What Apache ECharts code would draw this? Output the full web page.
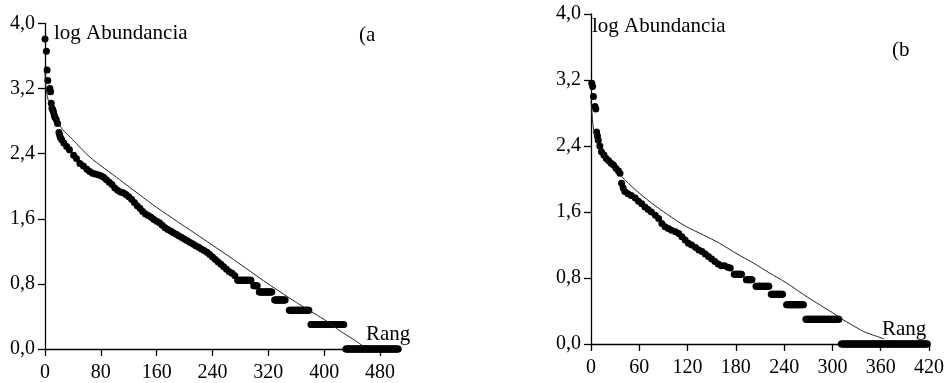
<!DOCTYPE html>
<html>
<head>
<meta charset="utf-8">
<script src="https://cdn.jsdelivr.net/npm/echarts@6/dist/echarts.min.js"></script>
<style>
html,body{margin:0;padding:0;background:#fff;}
#chart{width:949px;height:383px;}
</style>
</head>
<body>
<div id="chart"></div>
<script>
// ---------- DATA (a) ----------
const curveRankA = [0,2,3,4,7,8,9,10,11,12,13,14,16,18,20,21,22,24,27,31,35,41,45,50,55,60,64,68,72,76,80,84,88,92,96,100,104,108,112,116,120,124,128,132,136,140,144,148,152,156,160,164,168,172,176,180,184,188,192,196,200,204,208,212,216,220,224,228,232,236,240,244,248,252,256,260,264,268,272];
const curveLogA  = [3.81,3.66,3.43,3.30,3.20,3.16,3.02,2.96,2.94,2.92,2.88,2.85,2.82,2.77,2.66,2.63,2.60,2.57,2.53,2.49,2.45,2.38,2.34,2.28,2.25,2.21,2.18,2.16,2.15,2.14,2.13,2.11,2.08,2.05,2.02,1.98,1.95,1.93,1.92,1.90,1.87,1.84,1.80,1.76,1.73,1.69,1.66,1.64,1.62,1.59,1.57,1.55,1.52,1.49,1.47,1.45,1.43,1.41,1.39,1.37,1.35,1.33,1.31,1.29,1.27,1.25,1.23,1.21,1.19,1.16,1.13,1.10,1.07,1.04,1.01,0.98,0.95,0.93,0.90];
// plateaus (many species sharing the same abundance): first rank, last rank, log abundance
const stepStartA = [276,299,307,329,350,381,431];
const stepEndA   = [295,304,325,344,378,428,506];
const stepLogA   = [0.845,0.778,0.699,0.602,0.477,0.301,0];
// fitted model line (a)
const fitRankA = [0,1,3,5,10,17,25,40,64,107,160,222,270,318,365,404,423,445,458];
const fitLogA  = [3.40,3.25,3.12,3.05,2.96,2.81,2.70,2.57,2.36,2.08,1.74,1.38,1.10,0.81,0.545,0.34,0.22,0.10,0.02];

// ---------- DATA (b) ----------
const curveRankB = [1,2,3,5,6,7,8,9,11,13,16,19,22,25,28,31,34,36,38,40,42,46,50,55,59,63,67,71,75,80,84,88,92,96,100,105,109,113,117,121,125,130,134,138,142,146,150,154,158,162,166,170,173];
const curveLogB  = [3.16,3.12,3.00,2.88,2.85,2.57,2.52,2.47,2.40,2.33,2.29,2.25,2.22,2.19,2.17,2.13,2.10,2.07,1.95,1.89,1.85,1.82,1.80,1.77,1.73,1.70,1.66,1.63,1.60,1.56,1.52,1.46,1.42,1.40,1.38,1.36,1.34,1.30,1.26,1.22,1.20,1.17,1.14,1.12,1.09,1.06,1.03,1.00,0.97,0.95,0.95,0.93,0.92];
const stepStartB = [178,193,205,224,243,267,311];
const stepEndB   = [187,200,221,238,264,308,418];
const stepLogB   = [0.845,0.778,0.699,0.602,0.477,0.301,0];
const fitRankB = [0,1,3,8,15,25,38,55,75,95,117,140,160,180,202,222,243,264,285,300,314,328,339,350,359,364];
const fitLogB  = [2.95,2.82,2.62,2.44,2.30,2.16,2.03,1.87,1.71,1.57,1.43,1.32,1.22,1.10,0.98,0.86,0.74,0.60,0.47,0.38,0.29,0.21,0.15,0.11,0.08,0.06];

// ---------- AXES ----------
const yTicks = [0,0.8,1.6,2.4,3.2,4.0];
const xTicksA = [0,80,160,240,320,400,480];
const xTicksB = [0,60,120,180,240,300,360,420];

// ---------- build point lists ----------
function points(ranks, vals, starts, ends, steps) {
  const out = ranks.map((r, i) => [r, vals[i]]);
  for (let k = 0; k < starts.length; k++) {
    for (let r = starts[k]; r <= ends[k]; r++) out.push([r, steps[k]]);
  }
  return out;
}
const ptsA = points(curveRankA, curveLogA, stepStartA, stepEndA, stepLogA);
const ptsB = points(curveRankB, curveLogB, stepStartB, stepEndB, stepLogB);
const fitA = fitRankA.map((r, i) => [r, fitLogA[i]]);
const fitB = fitRankB.map((r, i) => [r, fitLogB[i]]);

const FONT = "'Liberation Serif', 'Times New Roman', serif";
const FS = 20;
const lineSty = {color: '#000', width: 1.3};

function yAxis(gi) {
  return {
    type: 'value', gridIndex: gi, min: 0, max: 4, interval: 0.8,
    axisLine: {show: true, lineStyle: lineSty},
    axisTick: {show: true, length: 7, lineStyle: lineSty},
    splitLine: {show: false},
    axisLabel: {margin: 10, color: '#000', fontFamily: FONT, fontSize: FS,
      formatter: v => v.toFixed(1).replace('.', ',')}
  };
}
function xAxis(gi, max, ticks) {
  return {
    type: 'value', gridIndex: gi, min: 0, max: max,
    axisLine: {show: true, onZero: false, lineStyle: lineSty},
    axisTick: {show: true, length: 7, lineStyle: lineSty, customValues: ticks},
    splitLine: {show: false},
    axisLabel: {margin: 14, color: '#000', fontFamily: FONT, fontSize: FS, customValues: ticks,
      formatter: v => String(v)}
  };
}

const chart = echarts.init(document.getElementById('chart'), null, {renderer: 'canvas'});
const txt = (x, y, s) => ({type: 'text', x: x, y: y, style: {text: s, fill: '#000', font: '21px ' + FONT}});

chart.setOption({
  animation: false,
  backgroundColor: '#fff',
  grid: [
    {left: 45, top: 23.5, width: 356, height: 326},
    {left: 591, top: 14, width: 338, height: 330}
  ],
  xAxis: [xAxis(0, 510, xTicksA), xAxis(1, 420, xTicksB)],
  yAxis: [yAxis(0), yAxis(1)],
  series: [
    {type: 'scatter', xAxisIndex: 0, yAxisIndex: 0, data: ptsA, symbol: 'circle', symbolSize: 7,
      itemStyle: {color: '#000', opacity: 1}, silent: true},
    {type: 'line', xAxisIndex: 0, yAxisIndex: 0, data: fitA, showSymbol: false, smooth: 0.25,
      lineStyle: {color: '#222', width: 1}, silent: true},
    {type: 'scatter', xAxisIndex: 1, yAxisIndex: 1, data: ptsB, symbol: 'circle', symbolSize: 7,
      itemStyle: {color: '#000', opacity: 1}, silent: true},
    {type: 'line', xAxisIndex: 1, yAxisIndex: 1, data: fitB, showSymbol: false, smooth: 0.25,
      lineStyle: {color: '#222', width: 1}, silent: true}
  ],
  graphic: [
    txt(54, 23, 'log Abundancia'),
    txt(359, 25, '(a'),
    txt(366, 324, 'Rang'),
    txt(592, 16, 'log Abundancia'),
    txt(892, 40, '(b'),
    txt(882, 319, 'Rang')
  ]
});
</script>
</body>
</html>
